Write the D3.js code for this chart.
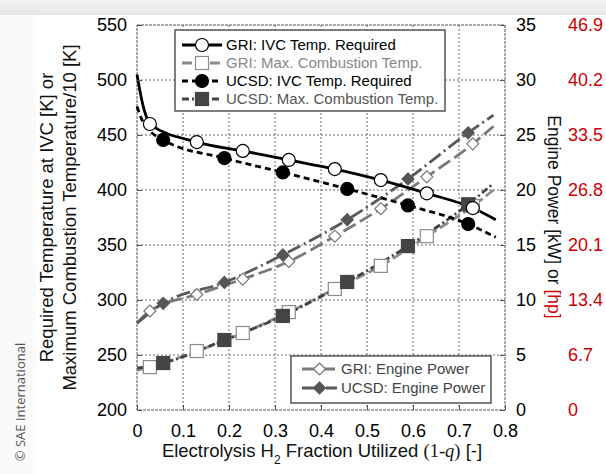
<!DOCTYPE html>
<html>
<head>
<meta charset="utf-8">
<script src="https://cdn.jsdelivr.net/npm/d3@7"></script>
<style>
  body { margin: 0; background: #fff; }
  svg { display: block; font-family: "Liberation Sans", Arial, sans-serif; }
</style>
</head>
<body>
<div id="chart"></div>
<script>
// x positions of the markers (Electrolysis H2 fraction utilized)
const xGri = [0.028, 0.13, 0.23, 0.33, 0.43, 0.53, 0.63, 0.73];
const xUcsd = [0.057, 0.19, 0.317, 0.457, 0.589, 0.72];

// left axis series [K] (marker values)
const griIvc = [460, 443.6, 435.5, 427.3, 419, 409, 397, 383.6];
const ucsdIvc = [445.5, 429, 416, 401, 386, 369];
const griMaxComb = [239, 253.6, 270, 289, 310, 331, 358, 385.5];
const ucsdMaxComb = [242.7, 263.6, 285.5, 316.4, 349, 387];

// right axis series [kW]
const griPower = [9.0, 10.5, 11.9, 13.5, 15.8, 18.3, 21.2, 24.2];
const ucsdPower = [9.7, 11.6, 14.1, 17.3, 21.0, 25.2];

// line-only points read at the ends of each curve [x, value]
const griIvcStart = [[0, 505], [0.006, 491], [0.013, 477], [0.02, 467]];
const griIvcEnd = [[0.78, 373]];
const ucsdIvcStart = [[0, 476], [0.013, 462]];
const ucsdIvcEnd = [[0.78, 357]];
const griMaxStart = [[0, 236]];
const griMaxEnd = [[0.775, 400]];
const ucsdMaxStart = [[0, 238]];
const ucsdMaxEnd = [[0.775, 406]];
const griPowStart = [[0, 7.9]];
const griPowEnd = [[0.775, 25.8]];
const ucsdPowStart = [[0, 7.9]];
const ucsdPowEnd = [[0.775, 26.8]];

// tick values
const xTicks = [0, 0.1, 0.2, 0.3, 0.4, 0.5, 0.6, 0.7, 0.8];
const tempTicks = [200, 250, 300, 350, 400, 450, 500, 550];
const kwTicks = [0, 5, 10, 15, 20, 25, 30, 35];
const hpLabels = ["0", "6.7", "13.4", "20.1", "26.8", "33.5", "40.2", "46.9"];

const W = 606, H = 474;
const plot = { left: 137, right: 505, top: 25, bottom: 410 };

const svg = d3.select("#chart").append("svg")
    .attr("width", W).attr("height", H);

// page background: grey shadow band on top
const defs = svg.append("defs");
const gr = defs.append("linearGradient").attr("id", "topShade")
    .attr("x1", 0).attr("y1", 0).attr("x2", 0).attr("y2", 1);
gr.append("stop").attr("offset", "0%").attr("stop-color", "#f4f4f4");
gr.append("stop").attr("offset", "100%").attr("stop-color", "#e6e6e6");
svg.append("rect").attr("width", W).attr("height", 15).attr("fill", "url(#topShade)");
svg.append("rect").attr("x", 0).attr("y", 15).attr("width", 36).attr("height", H - 15).attr("fill", "#fafafa");

const x = d3.scaleLinear().domain([0, 0.8]).range([plot.left, plot.right]);
const yT = d3.scaleLinear().domain([200, 550]).range([plot.bottom, plot.top]);
const yP = d3.scaleLinear().domain([0, 35]).range([plot.bottom, plot.top]);

// grid
const grid = svg.append("g");
grid.selectAll(".gx").data(xTicks.slice(1, -1)).join("line")
    .attr("x1", d => x(d)).attr("x2", d => x(d))
    .attr("y1", plot.top).attr("y2", plot.bottom)
    .attr("stroke", "#666").attr("stroke-width", 1).attr("stroke-dasharray", "2,2");
grid.selectAll(".gy").data(tempTicks.slice(1, -1)).join("line")
    .attr("x1", plot.left).attr("x2", plot.right)
    .attr("y1", d => yT(d)).attr("y2", d => yT(d))
    .attr("stroke", "#666").attr("stroke-width", 1).attr("stroke-dasharray", "2,2");

// frame
svg.append("rect")
    .attr("x", plot.left).attr("y", plot.top)
    .attr("width", plot.right - plot.left).attr("height", plot.bottom - plot.top)
    .attr("fill", "none").attr("stroke", "#555").attr("stroke-width", 1)
    .attr("stroke-dasharray", "3,1");

function pts(xs, ys, start, end) {
    return start.concat(xs.map((v, i) => [v, ys[i]]), end);
}

const series = [
    { id: "griMax", pts: pts(xGri, griMaxComb, griMaxStart, griMaxEnd), mx: xGri, my: griMaxComb, y: yT,
      color: "#8c8c8c", dash: "10,4", marker: "square", fill: "#fff", mstroke: "#8c8c8c" },
    { id: "ucsdMax", pts: pts(xUcsd, ucsdMaxComb, ucsdMaxStart, ucsdMaxEnd), mx: xUcsd, my: ucsdMaxComb, y: yT,
      color: "#444", dash: "7,3,2,3", marker: "square", fill: "#444", mstroke: "#444" },
    { id: "griPow", pts: pts(xGri, griPower, griPowStart, griPowEnd), mx: xGri, my: griPower, y: yP,
      color: "#7a7a7a", dash: "14,5", marker: "diamond", fill: "#fff", mstroke: "#777" },
    { id: "ucsdPow", pts: pts(xUcsd, ucsdPower, ucsdPowStart, ucsdPowEnd), mx: xUcsd, my: ucsdPower, y: yP,
      color: "#595959", dash: "14,4,2,4", marker: "diamond", fill: "#555", mstroke: "#555" },
    { id: "griIvc", pts: pts(xGri, griIvc, griIvcStart, griIvcEnd), mx: xGri, my: griIvc, y: yT,
      color: "#000", dash: null, marker: "circle", fill: "#fff", mstroke: "#000" },
    { id: "ucsdIvc", pts: pts(xUcsd, ucsdIvc, ucsdIvcStart, ucsdIvcEnd), mx: xUcsd, my: ucsdIvc, y: yT,
      color: "#000", dash: "6,4", marker: "circle", fill: "#000", mstroke: "#000" }
];

const lines = svg.append("g");
series.forEach(s => {
    const line = d3.line().x(d => x(d[0])).y(d => s.y(d[1])).curve(d3.curveMonotoneX);
    lines.append("path").datum(s.pts)
        .attr("d", line)
        .attr("fill", "none")
        .attr("stroke", s.color)
        .attr("stroke-width", 2.8)
        .attr("stroke-dasharray", s.dash);
});

function drawMarker(g, type, cx, cy, fill, stroke) {
    if (type === "circle") {
        g.append("circle").attr("cx", cx).attr("cy", cy).attr("r", 6.5)
            .attr("fill", fill).attr("stroke", stroke).attr("stroke-width", 1.2);
    } else if (type === "square") {
        g.append("rect").attr("x", cx - 6.5).attr("y", cy - 6.5).attr("width", 13).attr("height", 13)
            .attr("fill", fill).attr("stroke", stroke).attr("stroke-width", 1.2);
    } else {
        const r = 6;
        g.append("path").attr("d", `M${cx},${cy - r}L${cx + r},${cy}L${cx},${cy + r}L${cx - r},${cy}Z`)
            .attr("fill", fill).attr("stroke", stroke).attr("stroke-width", 1.2);
    }
}

const marks = svg.append("g");
series.forEach(s => {
    s.mx.forEach((v, i) => drawMarker(marks, s.marker, x(v), s.y(s.my[i]), s.fill, s.mstroke));
});

// axes
const axisFont = g => g.selectAll("text").attr("font-size", 18).attr("font-family", "Liberation Sans, Arial, sans-serif");

svg.append("g").attr("transform", `translate(0,${plot.bottom})`)
    .call(d3.axisBottom(x).tickValues(xTicks).tickFormat(d => d === 0 ? "0" : d3.format(".1f")(d))
        .tickSizeInner(-5).tickSizeOuter(0).tickPadding(14))
    .call(g => g.select(".domain").remove())
    .call(g => g.selectAll("line").attr("stroke", "#555"))
    .call(axisFont)
    .call(g => g.selectAll("text").attr("fill", "#000"));

svg.append("g").attr("transform", `translate(${plot.left},0)`)
    .call(d3.axisLeft(yT).tickValues(tempTicks).tickSizeInner(-5).tickSizeOuter(0).tickPadding(10))
    .call(g => g.select(".domain").remove())
    .call(g => g.selectAll("line").attr("stroke", "#555"))
    .call(axisFont)
    .call(g => g.selectAll("text").attr("fill", "#000"));

svg.append("g").attr("transform", `translate(${plot.right},0)`)
    .call(d3.axisRight(yP).tickValues(kwTicks).tickSizeInner(-5).tickSizeOuter(0).tickPadding(11))
    .call(g => g.select(".domain").remove())
    .call(g => g.selectAll("line").attr("stroke", "#555"))
    .call(axisFont)
    .call(g => g.selectAll("text").attr("fill", "#000"));

svg.append("g").attr("transform", `translate(${plot.right},0)`)
    .call(d3.axisRight(yP).tickValues(kwTicks).tickFormat((d, i) => hpLabels[i]).tickSize(0).tickPadding(63))
    .call(g => g.select(".domain").remove())
    .call(axisFont)
    .call(g => g.selectAll("text").attr("fill", "#cc0000"));

// axis titles
const xt = svg.append("text").attr("x", (plot.left + plot.right) / 2 + 1).attr("y", 457)
    .attr("text-anchor", "middle").attr("font-size", 18.5).attr("fill", "#111");
xt.append("tspan").text("Electrolysis H");
xt.append("tspan").attr("dy", 7).attr("font-size", 12).text("2");
xt.append("tspan").attr("dy", -7).text(" Fraction Utilized ");
xt.append("tspan").attr("font-family", "Liberation Serif, Times New Roman, serif").text("(1-");
xt.append("tspan").attr("font-family", "Liberation Serif, Times New Roman, serif").attr("font-style", "italic").text("q");
xt.append("tspan").attr("font-family", "Liberation Serif, Times New Roman, serif").text(")");
xt.append("tspan").text(" [-]");

const yc = (plot.top + plot.bottom) / 2;
svg.append("text").attr("transform", `translate(53,${yc}) rotate(-90)`)
    .attr("text-anchor", "middle").attr("font-size", 18.5).attr("fill", "#111")
    .text("Required Temperature at IVC [K] or");
svg.append("text").attr("transform", `translate(76,${yc}) rotate(-90)`)
    .attr("text-anchor", "middle").attr("font-size", 18.5).attr("fill", "#111")
    .text("Maximum Combustion Temperature/10 [K]");

const rt = svg.append("text").attr("transform", `translate(548,217) rotate(90)`)
    .attr("text-anchor", "middle").attr("font-size", 17.5).attr("fill", "#111");
rt.append("tspan").text("Engine Power [kW] or ");
rt.append("tspan").attr("fill", "#cc0000").text("[hp]");

svg.append("text").attr("transform", `translate(25,402) rotate(-90)`)
    .attr("text-anchor", "middle").attr("font-size", 13).attr("fill", "#555")
    .attr("font-family", "Open Sans, DejaVu Sans, sans-serif")
    .text("\u00a9 SAE International");

// legends
function legend(box, items) {
    const g = svg.append("g");
    g.append("rect").attr("x", box.x).attr("y", box.y).attr("width", box.w).attr("height", box.h)
        .attr("fill", "#fff").attr("stroke", "#555").attr("stroke-width", 1.5);
    items.forEach((it, i) => {
        const s = series.find(d => d.id === it.id);
        const yy = box.y + box.first + i * box.step;
        g.append("line").attr("x1", box.lx0).attr("x2", box.lx1).attr("y1", yy).attr("y2", yy)
            .attr("stroke", s.color).attr("stroke-width", 2.8).attr("stroke-dasharray", s.dash);
        drawMarker(g, s.marker, (box.lx0 + box.lx1) / 2, yy, s.fill, s.mstroke);
        g.append("text").attr("x", box.tx).attr("y", yy).attr("dy", "0.35em")
            .attr("font-size", 15).attr("fill", it.color).text(it.label);
    });
}

legend({ x: 175, y: 30, w: 270, h: 81, first: 15, step: 18, lx0: 182, lx1: 222, tx: 226 }, [
    { id: "griIvc", label: "GRI: IVC Temp. Required", color: "#000" },
    { id: "griMax", label: "GRI: Max. Combustion Temp.", color: "#888" },
    { id: "ucsdIvc", label: "UCSD: IVC Temp. Required", color: "#000" },
    { id: "ucsdMax", label: "UCSD: Max. Combustion Temp.", color: "#555" }
]);

legend({ x: 291, y: 356, w: 200, h: 47, first: 13, step: 19, lx0: 302, lx1: 337, tx: 341 }, [
    { id: "griPow", label: "GRI: Engine Power", color: "#444" },
    { id: "ucsdPow", label: "UCSD: Engine Power", color: "#444" }
]);
</script>
</body>
</html>
